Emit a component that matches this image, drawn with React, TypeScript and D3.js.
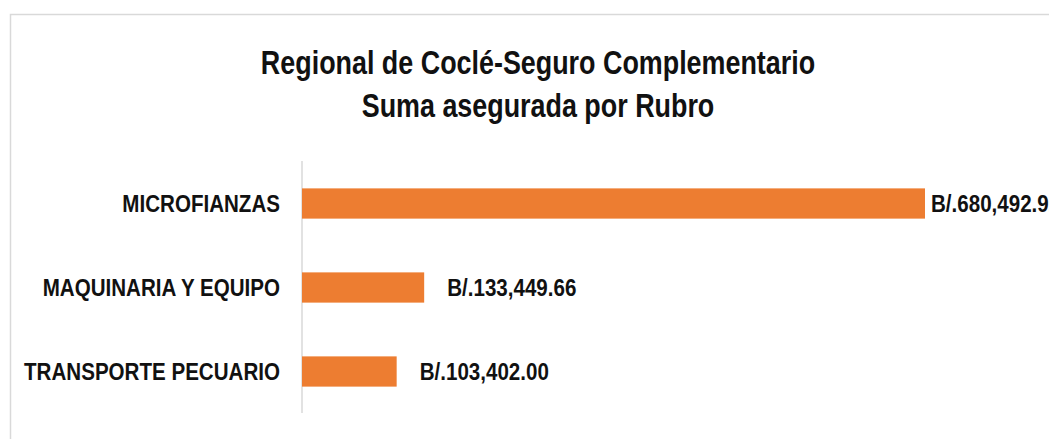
import React from "react";
import * as d3 from "d3";

const categories = ["MICROFIANZAS", "MAQUINARIA Y EQUIPO", "TRANSPORTE PECUARIO"];
const values = [680492.92, 133449.66, 103402.0];
const valueLabels = ["B/.680,492.92", "B/.133,449.66", "B/.103,402.00"];
const titleLines = ["Regional de Coclé-Seguro Complementario", "Suma asegurada por Rubro"];

const W = 1049;
const H = 439;
const FONT = "'Liberation Sans', Arial, sans-serif";
const NARROW_TITLE = 0.815;
const NARROW_LABEL = 0.84;

export default function App() {
  const x = d3.scaleLinear().domain([0, d3.max(values) as number]).range([302, 925]);
  const y = d3.scaleBand<string>().domain(categories).range([161.5, 413.5]).paddingInner(0.64).paddingOuter(0.32);
  const maxEnd = x(d3.max(values) as number);

  return (
    <svg width={W} height={H} style={{ position: "absolute", left: 0, top: 0, background: "#fff" }}>
      <rect x={10.5} y={14.5} width={1200} height={600} fill="#fff" stroke="#d9d9d9" strokeWidth={1.5} />
      <g fontFamily={FONT} fontWeight="bold" fill="#111">
        {titleLines.map((t, i) => (
          <text
            key={i}
            transform={`translate(538,${74 + i * 43}) scale(${NARROW_TITLE},1)`}
            textAnchor="middle"
            fontSize={33}
          >
            {t}
          </text>
        ))}
      </g>
      <line x1={302} x2={302} y1={161} y2={413} stroke="#d9d9d9" strokeWidth={1.5} />
      {categories.map((c, i) => {
        const yy = y(c) as number;
        const bw = y.bandwidth();
        const end = x(values[i]);
        const lx = Math.min(end + 23, maxEnd + 6);
        const cy = yy + bw / 2;
        return (
          <g key={c}>
            <rect x={x(0)} y={yy} width={end - x(0)} height={bw} fill="#ED7D31" />
            <text
              transform={`translate(280,${cy}) scale(${NARROW_LABEL},1)`}
              dy="0.36em"
              textAnchor="end"
              fontFamily={FONT}
              fontWeight="bold"
              fontSize={24.5}
              fill="#111"
            >
              {c}
            </text>
            <text
              transform={`translate(${lx},${cy}) scale(${NARROW_LABEL},1)`}
              dy="0.36em"
              textAnchor="start"
              fontFamily={FONT}
              fontWeight="bold"
              fontSize={24.5}
              fill="#111"
            >
              {valueLabels[i]}
            </text>
          </g>
        );
      })}
    </svg>
  );
}
